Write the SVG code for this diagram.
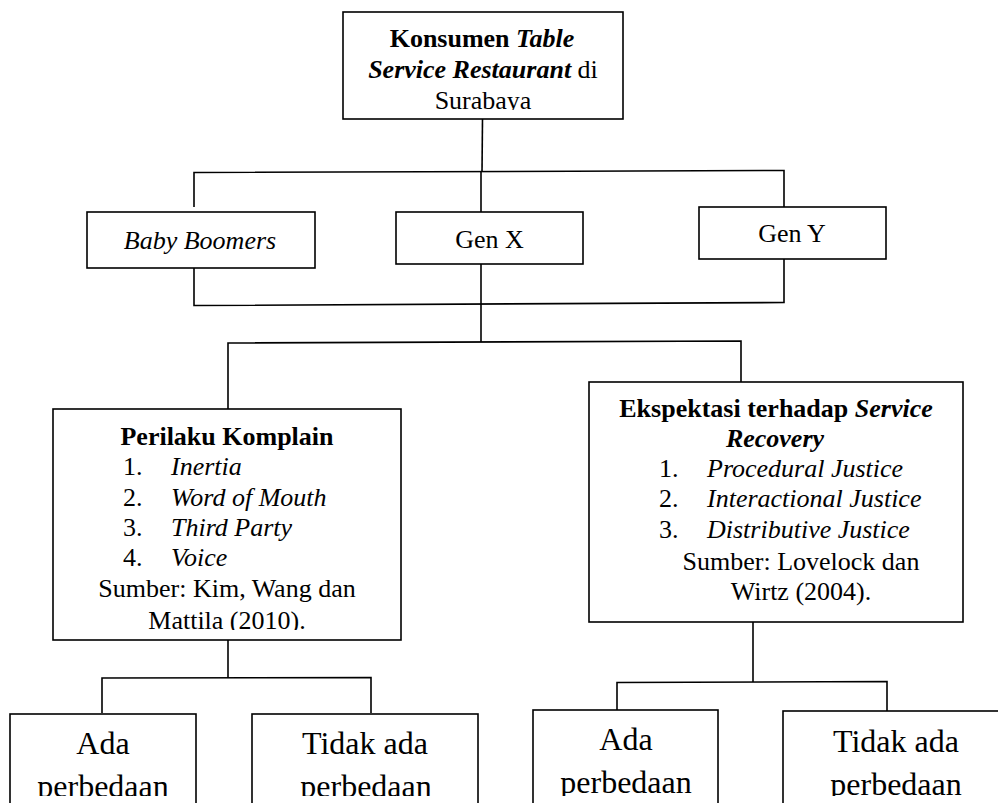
<svg xmlns="http://www.w3.org/2000/svg" width="998" height="803" viewBox="0 0 998 803">
<style>
.box{fill:#fff;stroke:#000;stroke-width:1.6}
.ln{fill:none;stroke:#000;stroke-width:1.6}
text{font-family:"Liberation Serif","Times New Roman",serif;font-size:26px;fill:#000}
.b{font-weight:bold}
.i{font-style:italic}
.c{text-anchor:middle}
.big{font-size:32px}
</style>
<defs>
<clipPath id="clipTop"><rect x="0" y="0" width="998" height="110"/></clipPath>
<clipPath id="clipPK"><rect x="0" y="0" width="998" height="630"/></clipPath>
<clipPath id="clipBot"><rect x="0" y="0" width="998" height="796"/></clipPath>
</defs>
<g id="connectors">
<polyline class="ln" points="482.5,119 482,172"/>
<polyline class="ln" points="194,207 194,172.5 784,170.5 784,207"/>
<polyline class="ln" points="481,172 481,212"/>
<polyline class="ln" points="194,268 194,305.5 784,302.5 784,259"/>
<polyline class="ln" points="481,264 481,342"/>
<polyline class="ln" points="228,409 228,343 741,341 741,382"/>
<polyline class="ln" points="228,640 228,678"/>
<polyline class="ln" points="102,713 102,678 371,677.5 371,713"/>
<polyline class="ln" points="753,622 753,682"/>
<polyline class="ln" points="617,717 617,682.5 887,681.5 887,713"/>
</g>
<g id="node-konsumen">
<rect class="box" x="343" y="12" width="280" height="107"/>
<g clip-path="url(#clipTop)">
<text class="c" x="482" y="47"><tspan class="b">Konsumen </tspan><tspan class="b i">Table</tspan></text>
<text class="c" x="483" y="77.5"><tspan class="b i">Service Restaurant</tspan> di</text>
<text class="c" x="483" y="108.5">Surabaya</text>
</g>
</g>
<g id="node-babyboomers">
<rect class="box" x="87" y="212" width="228" height="56"/>
<text class="c i" x="200" y="248.5">Baby Boomers</text>
</g>
<g id="node-genx">
<rect class="box" x="396" y="212" width="187" height="52"/>
<text class="c" x="489.5" y="247.5">Gen X</text>
</g>
<g id="node-geny">
<rect class="box" x="699" y="207" width="187" height="52"/>
<text class="c" x="792" y="242">Gen Y</text>
</g>
<g id="node-perilaku">
<rect class="box" x="53" y="409" width="348" height="231"/>
<g clip-path="url(#clipPK)">
<text class="c b" x="227" y="445">Perilaku Komplain</text>
<text x="123" y="475">1.</text><text class="i" x="171" y="475">Inertia</text>
<text x="123" y="506">2.</text><text class="i" x="171" y="506">Word of Mouth</text>
<text x="123" y="536">3.</text><text class="i" x="171" y="536">Third Party</text>
<text x="123" y="566">4.</text><text class="i" x="171" y="566">Voice</text>
<text class="c" x="227" y="597">Sumber: Kim, Wang dan</text>
<text class="c" x="227" y="628.5">Mattila (2010).</text>
</g>
</g>
<g id="node-ekspektasi">
<rect class="box" x="589" y="382" width="374" height="240"/>
<text class="c b" x="776" y="417">Ekspektasi terhadap <tspan class="i">Service</tspan></text>
<text class="c b i" x="775" y="447">Recovery</text>
<text x="659" y="477">1.</text><text class="i" x="707" y="477">Procedural Justice</text>
<text x="659" y="507">2.</text><text class="i" x="707" y="507">Interactional Justice</text>
<text x="659" y="538">3.</text><text class="i" x="707" y="538">Distributive Justice</text>
<text class="c" x="801" y="570">Sumber: Lovelock dan</text>
<text class="c" x="801" y="600">Wirtz (2004).</text>
</g>
<g id="node-ada-1">
<rect class="box" x="10" y="714" width="186" height="110"/>
<g clip-path="url(#clipBot)">
<text class="c big" x="103" y="754">Ada</text>
<text class="c big" x="103" y="797">perbedaan</text>
</g>
</g>
<g id="node-tidak-1">
<rect class="box" x="252" y="714" width="226" height="110"/>
<g clip-path="url(#clipBot)">
<text class="c big" x="365" y="754">Tidak ada</text>
<text class="c big" x="366" y="797">perbedaan</text>
</g>
</g>
<g id="node-ada-2">
<rect class="box" x="533" y="710" width="185" height="110"/>
<g clip-path="url(#clipBot)">
<text class="c big" x="626" y="750">Ada</text>
<text class="c big" x="626" y="793">perbedaan</text>
</g>
</g>
<g id="node-tidak-2">
<rect class="box" x="783" y="711" width="240" height="110"/>
<g clip-path="url(#clipBot)">
<text class="c big" x="896" y="752">Tidak ada</text>
<text class="c big" x="896" y="795">perbedaan</text>
</g>
</g>
</svg>
